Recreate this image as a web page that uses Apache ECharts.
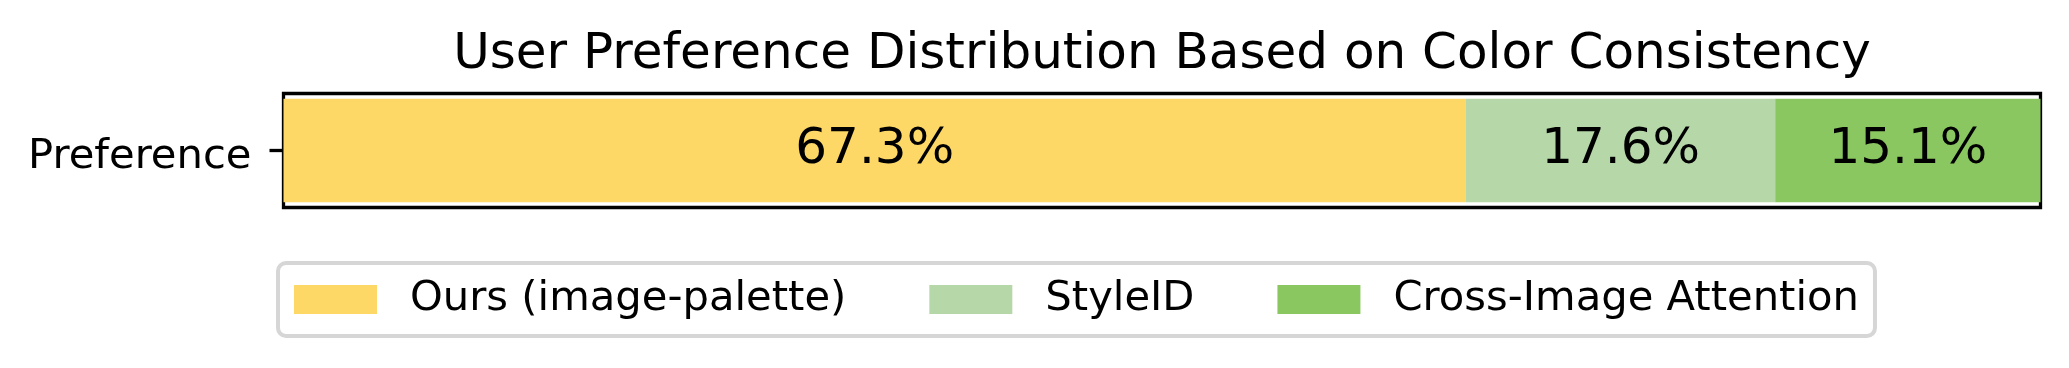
<!DOCTYPE html>
<html>
<head>
<meta charset="utf-8">
<script src="https://cdn.jsdelivr.net/npm/echarts@6/dist/echarts.min.js"></script>
<style>
html,body{margin:0;padding:0;background:#fff;}
#chart{width:2069px;height:368px;}
</style>
</head>
<body>
<div id="chart"></div>
<script>
const titleText = 'User Preference Distribution Based on Color Consistency';
const categories = ['Preference'];
const seriesNames = ['Ours (image-palette)', 'StyleID', 'Cross-Image Attention'];
const oursValues = [67.3];
const styleIDValues = [17.6];
const crossImageValues = [15.1];
const seriesColors = ['#fdd866', '#b6d7a8', '#8bc761'];

const FONT = 'DejaVu Sans';
const chart = echarts.init(document.getElementById('chart'), null, {renderer: 'canvas'});

const valueSets = [oursValues, styleIDValues, crossImageValues];
const series = seriesNames.map((name, i) => ({
  name: name,
  type: 'bar',
  stack: 'total',
  data: valueSets[i],
  barWidth: '90.9%',
  itemStyle: {color: seriesColors[i]},
  label: {
    show: true,
    position: 'inside',
    formatter: p => p.value.toFixed(1) + '%',
    color: '#000',
    fontFamily: FONT,
    fontSize: 50
  },
  emphasis: {disabled: true}
}));

chart.setOption({
  animation: false,
  backgroundColor: '#fff',
  title: {
    text: titleText,
    left: 1162,
    top: 30,
    textAlign: 'center',
    padding: 0,
    textStyle: {fontFamily: FONT, fontSize: 50, fontWeight: 'normal', color: '#000', lineHeight: 50}
  },
  legend: {
    data: seriesNames,
    left: 278,
    top: 263,
    orient: 'horizontal',
    padding: [15.5, 16, 15.5, 16],
    itemWidth: 83,
    itemHeight: 29,
    itemGap: 83,
    borderColor: '#d6d6d6',
    borderWidth: 4,
    borderRadius: 8,
    icon: 'rect',
    selectedMode: false,
    textStyle: {fontFamily: FONT, fontSize: 41.7, color: '#000', padding: [0, 0, 0, 28], lineHeight: 29}
  },
  grid: {
    left: 283.5,
    right: 28.5,
    top: 93.5,
    bottom: 160.5,
    show: true,
    borderColor: '#000',
    borderWidth: 3.3,
    containLabel: false
  },
  xAxis: {
    type: 'value',
    min: 0,
    max: 100,
    show: false
  },
  yAxis: {
    type: 'category',
    data: categories,
    axisLine: {show: false},
    axisTick: {show: true, length: 14, lineStyle: {color: '#000', width: 3.3}, alignWithLabel: true},
    axisLabel: {fontFamily: FONT, fontSize: 41.7, color: '#000', margin: 32, verticalAlign: 'top', lineHeight: 14},
    splitLine: {show: false}
  },
  series: series
});
</script>
</body>
</html>
